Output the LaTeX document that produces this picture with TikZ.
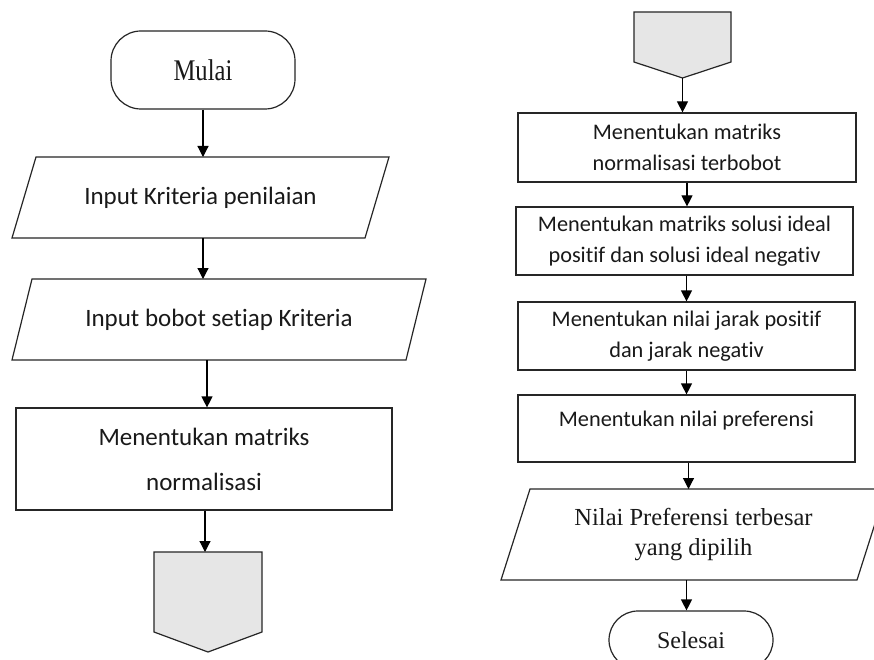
\documentclass[tikz,border=0pt]{standalone}
\usepackage{fontspec}
\setmainfont{Liberation Serif}
\newfontfamily\calfont[Ligatures=NoCommon]{Carlito}
\usetikzlibrary{arrows.meta}
\definecolor{connfill}{HTML}{E6E6E6}
\begin{document}
\begin{tikzpicture}[x=1pt,y=-1pt,
  shp/.style={draw=black!85, line width=1.2pt},
  arr/.style={draw=black, line width=1.2pt, -{Triangle[length=11pt,width=11pt]}},
  ghost/.style={inner sep=0pt, outer sep=0pt, align=center, text=black!90},
  boxnode/.style={shp, rectangle, inner sep=0pt, align=center, text=black!90},
  termnode/.style={shp, rectangle, rounded corners=30pt, inner sep=0pt, align=center, text=black!90},
  leftsans/.style={font=\calfont\fontsize{25}{45}\selectfont},
  rightsans/.style={font=\calfont\fontsize{22.3}{30.5}\selectfont},
  serifbig/.style={font=\fontsize{24.5}{30}\selectfont}
]
\clip (0,0) rectangle (874,660);
\fill[white] (0,0) rectangle (874,660);

% ---------------- left chart ----------------
\node[termnode, minimum width=184pt, minimum height=78pt, font=\fontsize{30}{32}\selectfont] (mulai) at (203,70) {\scalebox{0.82}[1]{Mulai}};

\node[ghost, minimum width=377pt, minimum height=81pt, leftsans] (p1) at (200.5,197.5) {Input Kriteria penilaian};
\draw[shp] ([xshift=24pt]p1.north west) -- (p1.north east) -- ([xshift=-24pt]p1.south east) -- (p1.south west) -- cycle;

\node[ghost, minimum width=414pt, minimum height=81pt, leftsans] (p2) at (219,319.5) {Input bobot setiap Kriteria};
\draw[shp] ([xshift=20pt]p2.north west) -- (p2.north east) -- ([xshift=-20pt]p2.south east) -- (p2.south west) -- cycle;

\node[boxnode, minimum width=376pt, minimum height=102pt, leftsans] (rl) at (204,459) {Menentukan matriks\\normalisasi};

\node[ghost, minimum width=108pt, minimum height=100pt] (offl) at (208,602) {};
\draw[shp, fill=connfill] (offl.north west) -- (offl.north east) -- ([yshift=20pt]offl.south east) -- (offl.south) -- ([yshift=20pt]offl.south west) -- cycle;

\draw[arr] (mulai.south) -- (mulai.south |- p1.north);
\draw[arr] (mulai.south |- p1.south) -- (mulai.south |- p2.north);
\draw[arr] ([xshift=3pt]rl.north |- p2.south) -- ([xshift=3pt]rl.north);
\draw[arr] ([xshift=1pt]rl.south) -- ([xshift=1pt]rl.south |- offl.north);

% ---------------- right chart ----------------
\node[ghost, minimum width=97pt, minimum height=66pt] (offr) at (682.5,45) {};
\draw[shp, fill=connfill] (offr.north west) -- (offr.north east) -- ([yshift=16pt]offr.south east) -- (offr.south) -- ([yshift=16pt]offr.south west) -- cycle;

\node[boxnode, minimum width=338pt, minimum height=69pt, rightsans] (r1) at (687,147.5) {Menentukan matriks\\normalisasi terbobot};
\node[boxnode, minimum width=337pt, minimum height=68pt, rightsans] (r2) at (684.5,241) {Menentukan matriks solusi ideal\\positif dan solusi ideal negativ};
\node[boxnode, minimum width=337pt, minimum height=68pt, rightsans] (r3) at (686.5,336) {Menentukan nilai jarak positif\\dan jarak negativ};
\node[boxnode, minimum width=337pt, minimum height=67pt] (r4) at (686.5,428.5) {};
\node[ghost, rightsans] (r4t) at ([yshift=8pt]r4.center) {Menentukan nilai preferensi};

\node[ghost, minimum width=385pt, minimum height=91pt, serifbig] (p3) at (693.5,534.5) {Nilai Preferensi terbesar\\yang dipilih};
\draw[shp] ([xshift=29pt]p3.north west) -- (p3.north east) -- ([xshift=-29pt]p3.south east) -- (p3.south west) -- cycle;

\node[termnode, rounded corners=29pt, minimum width=164pt, minimum height=58pt, font=\fontsize{24}{26}\selectfont] (sel) at (691,640) {Selesai};

\draw[arr] (offr.south) -- (offr.south |- r1.north);
\draw[arr] (r1.south) -- (r1.south |- r2.north);
\draw[arr] (r3.north |- r2.south) -- (r3.north);
\draw[arr] (r3.south) -- (r4.north);
\draw[arr] ([xshift=2pt]r4.south) -- ([xshift=2pt]r4.south |- p3.north);
\draw[arr] (r4.south |- p3.south) -- (r4.south |- sel.north);
\end{tikzpicture}
\end{document}
